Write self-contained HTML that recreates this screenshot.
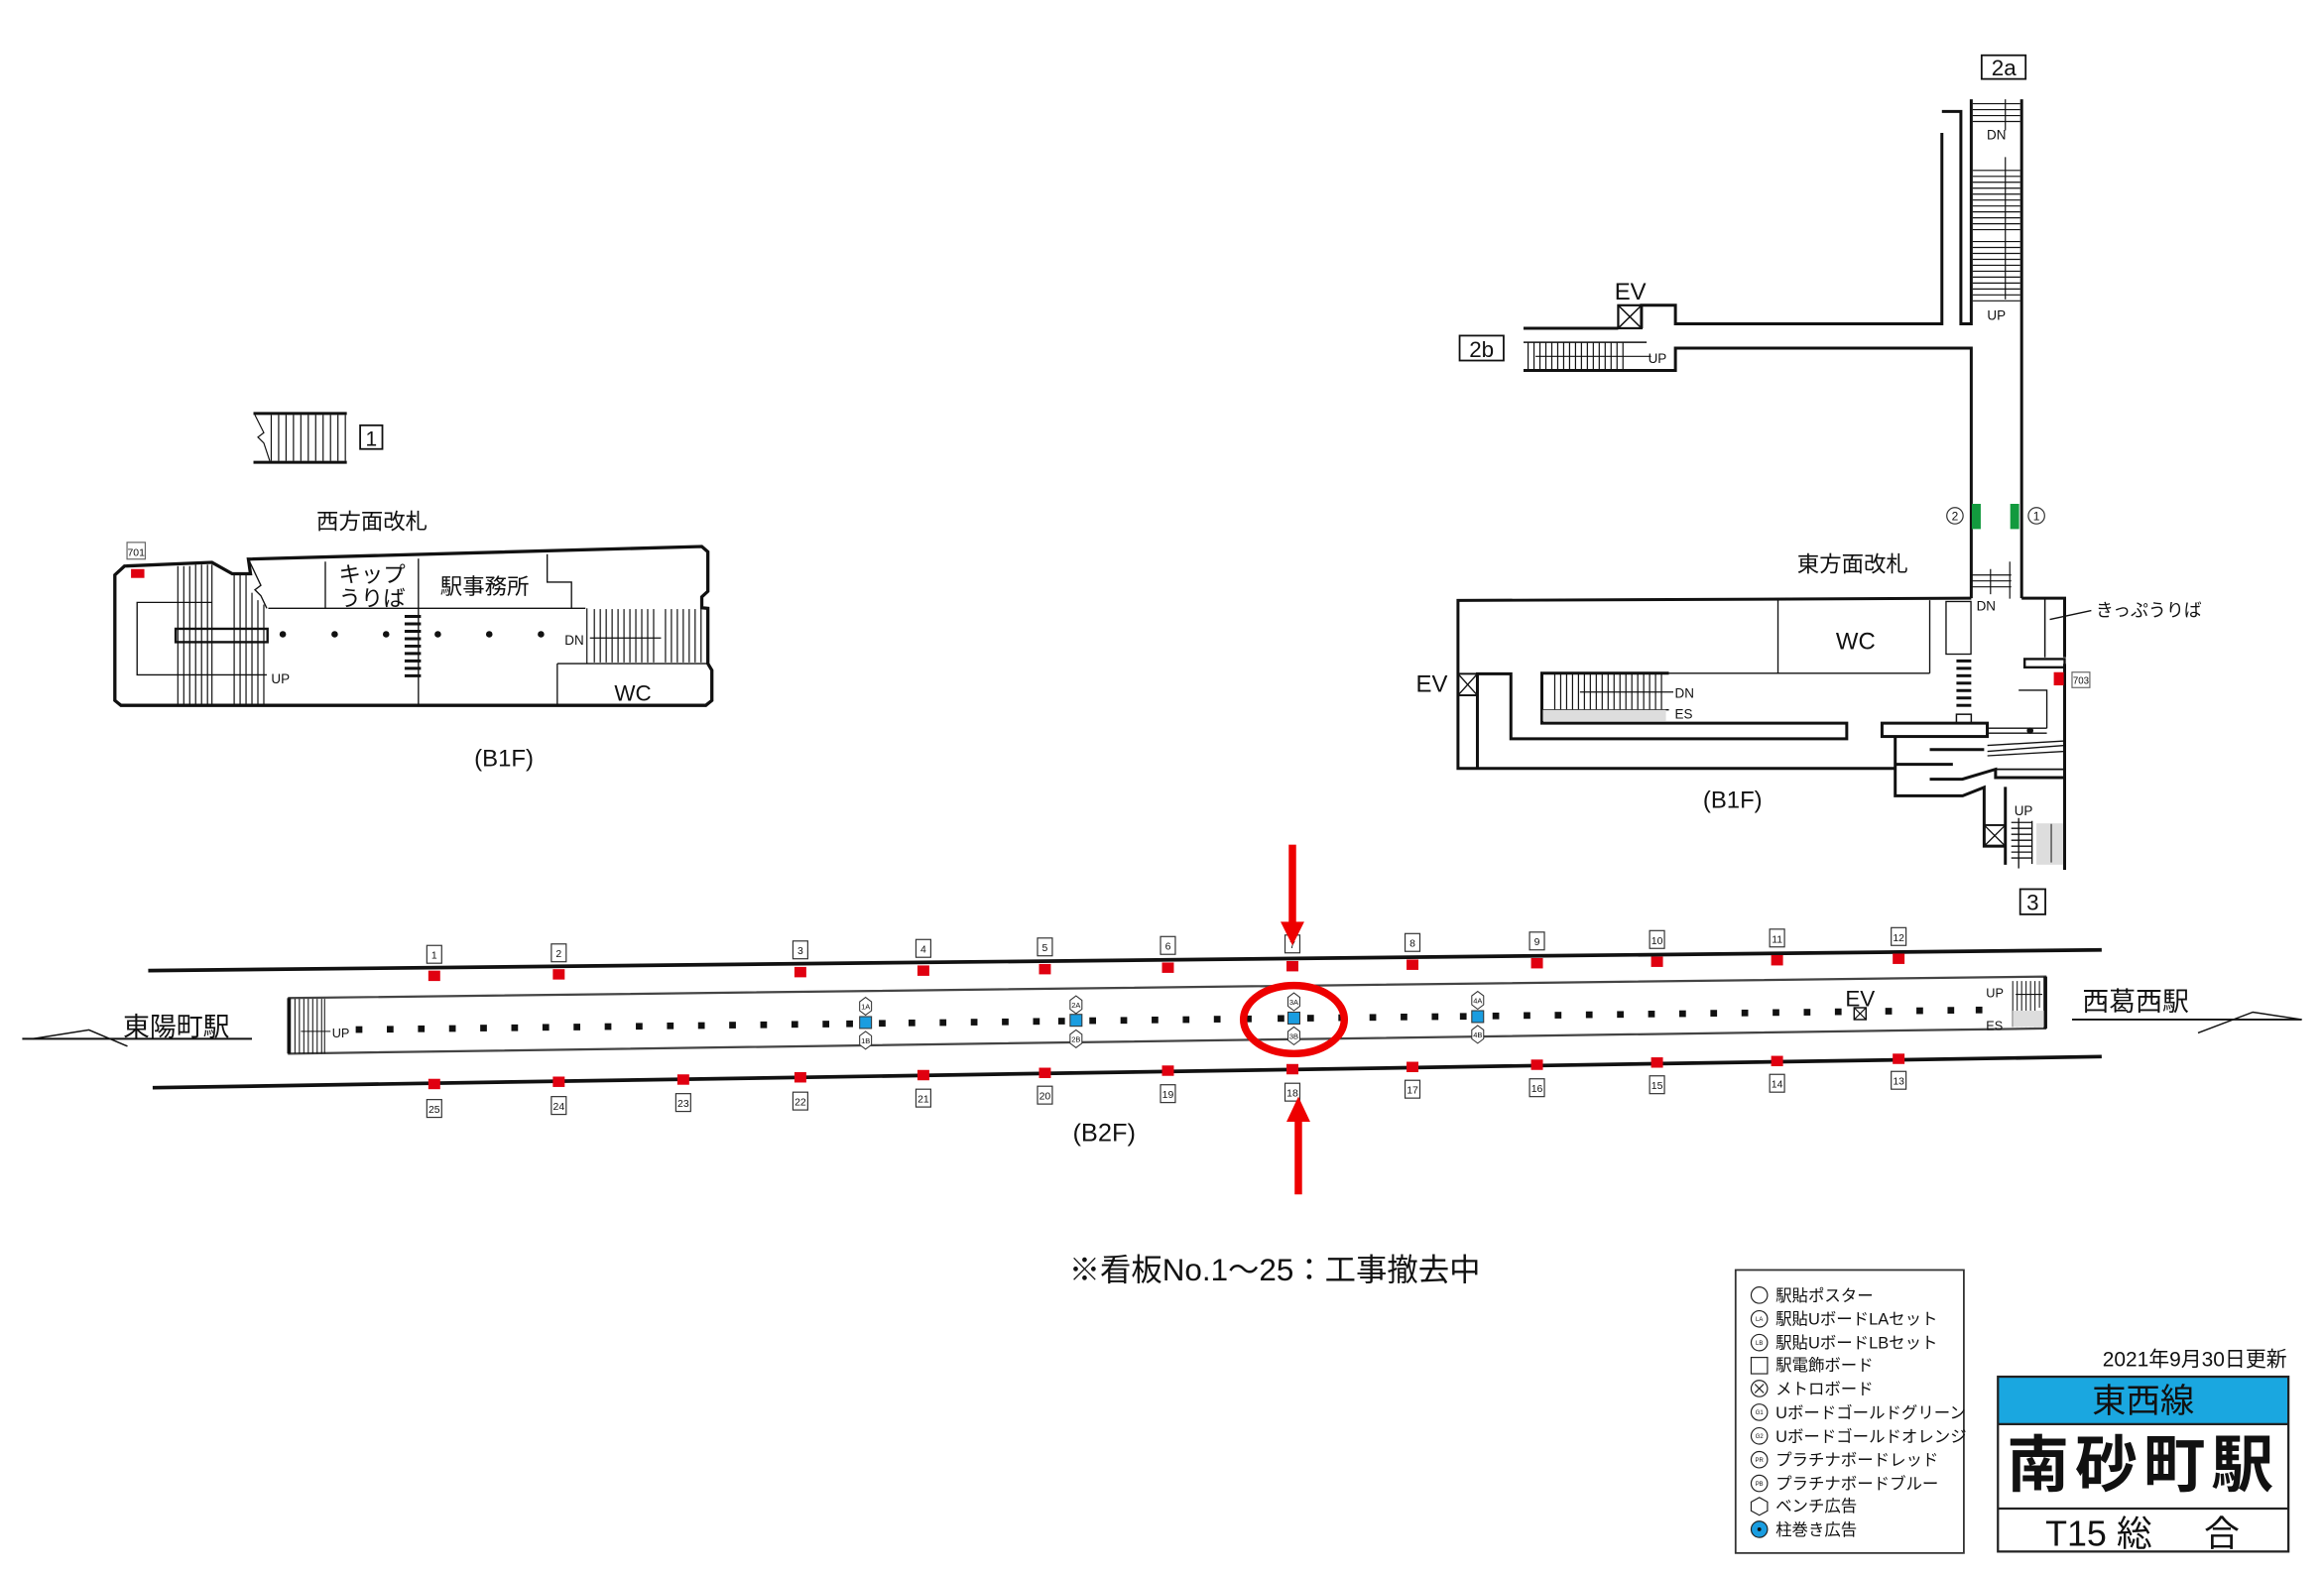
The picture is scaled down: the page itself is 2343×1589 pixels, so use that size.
<!DOCTYPE html>
<html><head><meta charset="utf-8"><style>
html,body{margin:0;padding:0;background:#fff;overflow:hidden;}
svg{display:block;}
text{font-family:"Liberation Sans","Noto Sans CJK JP",sans-serif;fill:#111;}
</style></head><body>
<svg width="2343" height="1589" viewBox="0 0 1568 1063.5" preserveAspectRatio="none" xmlns="http://www.w3.org/2000/svg">
<rect width="1600" height="1100" fill="#fff"/>

<!-- ===== WEST B1F ===== -->
<g stroke="#111" fill="none">
 <line x1="171" y1="279" x2="234" y2="279" stroke-width="2"/>
 <line x1="171" y1="312" x2="234" y2="312" stroke-width="2"/>
 <g stroke-width="0.8">
  <path d="M172,280 L178,292 L174,295 L178,299 L182,311"/>
  <line x1="183" y1="280" x2="183" y2="311"/><line x1="188" y1="280" x2="188" y2="311"/><line x1="193" y1="280" x2="193" y2="311"/><line x1="198" y1="280" x2="198" y2="311"/><line x1="203" y1="280" x2="203" y2="311"/><line x1="208" y1="280" x2="208" y2="311"/><line x1="213" y1="280" x2="213" y2="311"/><line x1="218" y1="280" x2="218" y2="311"/><line x1="223" y1="280" x2="223" y2="311"/><line x1="228" y1="280" x2="228" y2="311"/><line x1="233" y1="280" x2="233" y2="311"/>
 </g>
 <rect x="243" y="287" width="15" height="16" stroke-width="1.2"/>
 <path d="M77.5,388 L84,382 L143,379.5 L156.7,387.2 L169,387.2 L167.6,377.3 L473.5,368.8 L477.6,372.4 L477.6,399 L473.5,402.8 L473.5,410.1 L477.6,410.5 L477.6,447.8 L480.3,452.3 L480.3,472.7 L476.2,476 L81.6,476 L77.5,472.7 Z" stroke-width="2.2"/>
 <g stroke-width="0.9">
  <line x1="181" y1="410.5" x2="395" y2="410.5"/>
  <line x1="219.5" y1="379" x2="219.5" y2="410.5"/>
  <line x1="282.3" y1="377" x2="282.3" y2="476"/>
  <polyline points="369.2,374 369.2,392.8 385.6,392.8 385.6,410.5"/>
  <line x1="376" y1="447.8" x2="477" y2="447.8"/>
  <line x1="376" y1="447.8" x2="376" y2="476"/>
  <path d="M167.6,377.3 L176,395 L172,398 L176,402 L180,410.5"/>
  <polyline points="143,406.5 92.5,406.5 92.5,455.4 180,455.4"/>
  <rect x="118.5" y="424.3" width="62" height="9" stroke-width="1.6"/>
 </g>
 <g stroke-width="0.8">
  <line x1="120" y1="382" x2="120" y2="476"/><line x1="124" y1="382" x2="124" y2="476"/><line x1="128" y1="382" x2="128" y2="476"/><line x1="132" y1="381" x2="132" y2="476"/><line x1="136" y1="381" x2="136" y2="476"/><line x1="140" y1="381" x2="140" y2="476"/><line x1="143" y1="381" x2="143" y2="476"/>
  <line x1="158" y1="388" x2="158" y2="476"/><line x1="162" y1="388" x2="162" y2="476"/><line x1="166" y1="388" x2="166" y2="476"/><line x1="170" y1="400" x2="170" y2="476"/><line x1="174" y1="405" x2="174" y2="476"/><line x1="178" y1="408" x2="178" y2="476"/>
  <line x1="396" y1="410.5" x2="396" y2="447.8"/>
  <line x1="401" y1="411" x2="401" y2="447"/><line x1="405" y1="411" x2="405" y2="447"/><line x1="409" y1="411" x2="409" y2="447"/><line x1="413" y1="411" x2="413" y2="447"/><line x1="417" y1="411" x2="417" y2="447"/><line x1="421" y1="411" x2="421" y2="447"/><line x1="425" y1="411" x2="425" y2="447"/><line x1="429" y1="411" x2="429" y2="447"/><line x1="433" y1="411" x2="433" y2="447"/><line x1="437" y1="411" x2="437" y2="447"/><line x1="441" y1="411" x2="441" y2="447"/><line x1="449" y1="411" x2="449" y2="447"/><line x1="453" y1="411" x2="453" y2="447"/><line x1="457" y1="411" x2="457" y2="447"/><line x1="461" y1="411" x2="461" y2="447"/><line x1="465" y1="411" x2="465" y2="447"/><line x1="469" y1="411" x2="469" y2="447"/><line x1="473" y1="411" x2="473" y2="447"/>
  <line x1="398" y1="430.5" x2="446" y2="430.5"/>
 </g>
 <g stroke-width="2">
  <line x1="273" y1="416" x2="284" y2="416"/><line x1="273" y1="421" x2="284" y2="421"/><line x1="273" y1="426" x2="284" y2="426"/><line x1="273" y1="431" x2="284" y2="431"/><line x1="273" y1="436" x2="284" y2="436"/><line x1="273" y1="441" x2="284" y2="441"/><line x1="273" y1="446" x2="284" y2="446"/><line x1="273" y1="451" x2="284" y2="451"/><line x1="273" y1="456" x2="284" y2="456"/>
 </g>
 <rect x="85.7" y="366" width="12.3" height="11.3" stroke-width="0.8" stroke="#666"/>
</g>
<rect x="88.4" y="384" width="9" height="6" fill="#e00010"/>
<g fill="#111"><circle cx="190.8" cy="428" r="2.2"/><circle cx="225.8" cy="428" r="2.2"/><circle cx="260.5" cy="428" r="2.2"/><circle cx="295.4" cy="428" r="2.2"/><circle cx="330.1" cy="428" r="2.2"/><circle cx="365" cy="428" r="2.2"/></g>
<text x="91.8" y="375" font-size="7" text-anchor="middle">701</text>
<text x="250.5" y="301" font-size="14" text-anchor="middle">1</text>
<text x="251" y="357" font-size="15" text-anchor="middle">西方面改札</text>
<text x="251" y="393" font-size="15" text-anchor="middle">キップ</text>
<text x="251" y="409" font-size="15" text-anchor="middle">うりば</text>
<text x="327" y="401" font-size="15" text-anchor="middle">駅事務所</text>
<text x="183" y="461" font-size="9">UP</text>
<text x="381" y="435" font-size="9">DN</text>
<text x="427" y="473" font-size="15" text-anchor="middle">WC</text>
<text x="340" y="517" font-size="16" text-anchor="middle">(B1F)</text>

<!-- ===== EAST B1F ===== -->
<g transform="translate(6,2)">
<g stroke="#111" fill="none" stroke-width="2">
 <polyline points="1021.9,219.5 1085.8,219.5"/>
 <polyline points="1101.5,219.5 1101.5,204 1124.4,204 1124.4,216.5 1304.2,216.5 1304.2,87.7"/>
 <polyline points="1304.2,73.2 1317,73.2 1317,216.5 1324,216.5 1324,65"/>
 <polyline points="1021.9,248 1124.4,248 1124.4,232.9 1324,232.9 1324,401.7"/>
 <line x1="1358" y1="65" x2="1358" y2="401.7"/>
 <rect x="1085.8" y="204" width="15.7" height="15.5" stroke-width="1.5"/>
 <line x1="1085.8" y1="204" x2="1101.5" y2="219.5" stroke-width="1"/><line x1="1101.5" y1="204" x2="1085.8" y2="219.5" stroke-width="1"/>
 <line x1="1021.9" y1="229" x2="1105" y2="229" stroke-width="1"/>
 <rect x="978.8" y="224.5" width="29.7" height="16.8" stroke-width="1.2"/>
 <rect x="1331" y="35.3" width="29.7" height="16" stroke-width="1.2"/>
 <polyline points="1324,401.7 977.7,403.2 977.7,516.5 1272.6,516.5"/>
 <polyline points="990.8,516.5 990.8,452.7 1013.4,452.7 1013.4,496.5 1240,496.5 1240,486 1034.3,486 1034.3,452.3 1120,452.3"/>
 <rect x="977.7" y="452.7" width="13" height="14.5" stroke-width="1.3"/>
 <line x1="977.7" y1="452.7" x2="990.8" y2="467.2" stroke-width="0.9"/><line x1="990.8" y1="452.7" x2="977.7" y2="467.2" stroke-width="0.9"/>
 <g stroke-width="0.9">
  <line x1="1120" y1="452.3" x2="1296" y2="452.3"/>
  <line x1="1193.6" y1="403" x2="1193.6" y2="452.3"/>
  <line x1="1296" y1="403" x2="1296" y2="452.3"/>
  <rect x="1307" y="403.9" width="16.8" height="35.5"/>
  <line x1="1034.3" y1="477" x2="1120" y2="477"/>
 </g>
 <rect x="1035" y="477" width="83" height="7.5" fill="#ddd" stroke="none"/>
 <g stroke-width="0.8">
  <line x1="1043" y1="452.3" x2="1043" y2="477"/><line x1="1047" y1="452.3" x2="1047" y2="477"/><line x1="1051" y1="452.3" x2="1051" y2="477"/><line x1="1055" y1="452.3" x2="1055" y2="477"/><line x1="1059" y1="452.3" x2="1059" y2="477"/><line x1="1063" y1="452.3" x2="1063" y2="477"/><line x1="1067" y1="452.3" x2="1067" y2="477"/><line x1="1071" y1="452.3" x2="1071" y2="477"/><line x1="1075" y1="452.3" x2="1075" y2="477"/><line x1="1079" y1="452.3" x2="1079" y2="477"/><line x1="1083" y1="452.3" x2="1083" y2="477"/><line x1="1087" y1="452.3" x2="1087" y2="477"/><line x1="1091" y1="452.3" x2="1091" y2="477"/><line x1="1095" y1="452.3" x2="1095" y2="477"/><line x1="1099" y1="452.3" x2="1099" y2="477"/><line x1="1103" y1="452.3" x2="1103" y2="477"/><line x1="1107" y1="452.3" x2="1107" y2="477"/><line x1="1111" y1="452.3" x2="1111" y2="477"/><line x1="1115" y1="452.3" x2="1115" y2="477"/>
  <line x1="1060" y1="465" x2="1123" y2="465"/>
  <line x1="1025" y1="229" x2="1025" y2="248"/><line x1="1029" y1="229" x2="1029" y2="248"/><line x1="1033" y1="229" x2="1033" y2="248"/><line x1="1037" y1="229" x2="1037" y2="248"/><line x1="1041" y1="229" x2="1041" y2="248"/><line x1="1045" y1="229" x2="1045" y2="248"/><line x1="1049" y1="229" x2="1049" y2="248"/><line x1="1053" y1="229" x2="1053" y2="248"/><line x1="1057" y1="229" x2="1057" y2="248"/><line x1="1061" y1="229" x2="1061" y2="248"/><line x1="1065" y1="229" x2="1065" y2="248"/><line x1="1069" y1="229" x2="1069" y2="248"/><line x1="1073" y1="229" x2="1073" y2="248"/><line x1="1077" y1="229" x2="1077" y2="248"/><line x1="1081" y1="229" x2="1081" y2="248"/><line x1="1085" y1="229" x2="1085" y2="248"/><line x1="1089" y1="229" x2="1089" y2="248"/>
  <line x1="1030" y1="238.5" x2="1108" y2="238.5"/>
  <line x1="1325" y1="68" x2="1357" y2="68"/><line x1="1325" y1="72" x2="1357" y2="72"/><line x1="1325" y1="76" x2="1357" y2="76"/><line x1="1325" y1="80" x2="1357" y2="80"/>
  <line x1="1325" y1="113" x2="1357" y2="113"/><line x1="1325" y1="117" x2="1357" y2="117"/><line x1="1325" y1="121" x2="1357" y2="121"/><line x1="1325" y1="125" x2="1357" y2="125"/><line x1="1325" y1="129" x2="1357" y2="129"/><line x1="1325" y1="133" x2="1357" y2="133"/><line x1="1325" y1="137" x2="1357" y2="137"/><line x1="1325" y1="141" x2="1357" y2="141"/><line x1="1325" y1="145" x2="1357" y2="145"/><line x1="1325" y1="149" x2="1357" y2="149"/><line x1="1325" y1="153" x2="1357" y2="153"/>
  <line x1="1325" y1="161" x2="1357" y2="161"/><line x1="1325" y1="165" x2="1357" y2="165"/><line x1="1325" y1="169" x2="1357" y2="169"/><line x1="1325" y1="173" x2="1357" y2="173"/><line x1="1325" y1="177" x2="1357" y2="177"/><line x1="1325" y1="181" x2="1357" y2="181"/><line x1="1325" y1="185" x2="1357" y2="185"/><line x1="1325" y1="189" x2="1357" y2="189"/><line x1="1325" y1="193" x2="1357" y2="193"/><line x1="1325" y1="197" x2="1357" y2="197"/><line x1="1325" y1="201" x2="1357" y2="201"/>
  <line x1="1347" y1="65" x2="1347" y2="86"/><line x1="1347" y1="104" x2="1347" y2="200"/>
  <line x1="1324" y1="386" x2="1351" y2="386"/><line x1="1324" y1="390" x2="1351" y2="390"/><line x1="1324" y1="394" x2="1351" y2="394"/><line x1="1350" y1="377" x2="1350" y2="402"/><line x1="1337" y1="382" x2="1337" y2="399"/>
 </g>
 <polyline points="1358,401.7 1387,401.7 1387,441.6"/>
 <line x1="1373.7" y1="401.7" x2="1373.7" y2="441.6" stroke-width="1"/>
 <rect x="1360" y="442.7" width="27" height="5.6" stroke-width="1.6"/>
 <line x1="1377" y1="416" x2="1405" y2="410" stroke-width="0.9"/>
 <line x1="1387" y1="446" x2="1387" y2="585"/>
 <g stroke-width="2">
  <line x1="1314" y1="444" x2="1324" y2="444"/><line x1="1314" y1="449" x2="1324" y2="449"/><line x1="1314" y1="454" x2="1324" y2="454"/><line x1="1314" y1="459" x2="1324" y2="459"/><line x1="1314" y1="464" x2="1324" y2="464"/><line x1="1314" y1="469" x2="1324" y2="469"/><line x1="1314" y1="474" x2="1324" y2="474"/>
 </g>
 <rect x="1314" y="480" width="10" height="6" stroke-width="1"/>
 <rect x="1263.8" y="486" width="71" height="9"/>
 <polyline points="1272.7,495 1272.7,535 1318.2,535 1332.7,529.3 1332.7,569 1347,569"/>
 <rect x="1332.7" y="554.8" width="14.3" height="14.2" stroke-width="1.3"/>
 <line x1="1332.7" y1="554.8" x2="1347" y2="569" stroke-width="0.9"/><line x1="1347" y1="554.8" x2="1332.7" y2="569" stroke-width="0.9"/>
 <line x1="1347" y1="529" x2="1347" y2="581.5"/>
 <line x1="1296" y1="503.8" x2="1332.7" y2="503.8"/>
 <line x1="1272.7" y1="513.8" x2="1311.6" y2="513.8"/>
 <polyline points="1296,523.8 1318,523.8 1340.4,517.1 1340.4,522.7 1387,522.7"/>
 <line x1="1340.4" y1="517.1" x2="1387" y2="517.1" stroke-width="1.2"/>
 <g stroke-width="0.9">
  <line x1="1334.9" y1="489.4" x2="1375" y2="489.4"/><line x1="1334.9" y1="492.7" x2="1375" y2="492.7"/>
  <polyline points="1375,489.4 1375,463.8 1356,463.8"/>
  <line x1="1334.9" y1="501" x2="1387" y2="498"/><line x1="1334.9" y1="505" x2="1387" y2="501"/><line x1="1334.9" y1="508" x2="1387" y2="505"/>
  <line x1="1351" y1="553" x2="1365" y2="553"/><line x1="1351" y1="557" x2="1365" y2="557"/><line x1="1351" y1="561" x2="1365" y2="561"/><line x1="1351" y1="565" x2="1365" y2="565"/><line x1="1351" y1="569" x2="1365" y2="569"/><line x1="1351" y1="573" x2="1365" y2="573"/><line x1="1351" y1="577" x2="1365" y2="577"/>
  <line x1="1356" y1="550" x2="1356" y2="584"/><line x1="1365" y1="552" x2="1365" y2="581"/>
 </g>
 <rect x="1392" y="451.6" width="12" height="10.4" stroke-width="0.8" stroke="#666"/>
</g>
<circle cx="1363.7" cy="491" r="2.2" fill="#111"/>
<rect x="1368" y="553.6" width="18" height="27.9" fill="#ddd"/>
<line x1="1378" y1="554" x2="1378" y2="580" stroke="#555" stroke-width="1"/>
<rect x="1379.7" y="451.6" width="6.7" height="8.9" fill="#e00010"/>
<rect x="1324.4" y="338" width="6" height="17" fill="#129a3e"/>
<rect x="1350.3" y="338" width="6" height="17" fill="#129a3e"/>
<circle cx="1313" cy="346" r="5.5" fill="none" stroke="#333" stroke-width="0.8"/>
<circle cx="1368" cy="346" r="5.5" fill="none" stroke="#333" stroke-width="0.8"/>
<text x="1313" y="349" font-size="8" text-anchor="middle">2</text>
<text x="1368" y="349" font-size="8" text-anchor="middle">1</text>
<text x="1398" y="459.5" font-size="6.5" text-anchor="middle">703</text>
<text x="1346" y="49" font-size="15" text-anchor="middle">2a</text>
<text x="993.6" y="239" font-size="15" text-anchor="middle">2b</text>
<text x="1106" y="243" font-size="9">UP</text>
<text x="1341" y="92" font-size="9" text-anchor="middle">DN</text>
<text x="1341" y="214" font-size="9" text-anchor="middle">UP</text>
<text x="1334" y="410" font-size="9" text-anchor="middle">DN</text>
<text x="1353" y="548" font-size="9">UP</text>
</g>
<text x="1100" y="202" font-size="16" text-anchor="middle">EV</text>
<text x="1250" y="386" font-size="15" text-anchor="middle">東方面改札</text>
<text x="1414" y="416" font-size="12">きっぷうりば</text>
<text x="1252" y="438" font-size="16" text-anchor="middle">WC</text>
<text x="966" y="467" font-size="16" text-anchor="middle">EV</text>
<text x="1130" y="471" font-size="9">DN</text>
<text x="1130" y="485" font-size="9">ES</text>
<text x="1169" y="545" font-size="16" text-anchor="middle">(B1F)</text>
<rect x="1363" y="600" width="17" height="17" fill="none" stroke="#111" stroke-width="1.2"/>
<text x="1371.5" y="614" font-size="15" text-anchor="middle">3</text>

<!-- ===== B2F PLATFORM ===== -->
<g stroke="#111" fill="none">
 <line x1="100" y1="655" x2="1418" y2="641" stroke-width="2.5"/>
 <line x1="103" y1="734" x2="1418" y2="713" stroke-width="2.5"/>
 <polygon points="195,673.5 1380,659 1380,694 195,711" stroke-width="1.5" stroke="#444"/>
 <line x1="195" y1="673.5" x2="195" y2="711" stroke-width="2.5"/>
 <line x1="1380" y1="659" x2="1380" y2="694" stroke-width="2.5"/>
 <g stroke-width="0.7">
  <line x1="199" y1="674" x2="199" y2="711"/><line x1="202" y1="674" x2="202" y2="711"/><line x1="205" y1="674" x2="205" y2="711"/><line x1="208" y1="674" x2="208" y2="711"/><line x1="211" y1="674" x2="211" y2="711"/><line x1="214" y1="674" x2="214" y2="711"/><line x1="217" y1="674" x2="217" y2="711"/><line x1="219" y1="674" x2="219" y2="711"/>
  <line x1="203" y1="696" x2="223" y2="696"/>
  <line x1="1358" y1="662" x2="1358" y2="693"/><line x1="1361" y1="662" x2="1361" y2="693"/><line x1="1364" y1="662" x2="1364" y2="693"/><line x1="1367" y1="662" x2="1367" y2="693"/><line x1="1370" y1="662" x2="1370" y2="693"/><line x1="1373" y1="662" x2="1373" y2="693"/><line x1="1376" y1="662" x2="1376" y2="680"/>
  <line x1="1360" y1="671" x2="1378" y2="671"/>
 </g>
 <line x1="15" y1="701" x2="170" y2="701" stroke-width="1.3"/>
 <polyline points="22,701 60,695 86,706" stroke-width="1"/>
 <line x1="1398" y1="688" x2="1553" y2="688" stroke-width="1.3"/>
 <polyline points="1483,697 1520,683 1553,688" stroke-width="1"/>
</g>
<rect x="1358" y="682" width="21" height="11" fill="#ddd"/>
<text x="83" y="699" font-size="18">東陽町駅</text>
<text x="1405" y="682" font-size="18">西葛西駅</text>
<text x="224" y="700" font-size="8.5">UP</text>
<text x="1340" y="673" font-size="8.5">UP</text>
<text x="1340" y="695" font-size="8.5">ES</text>
<text x="1255" y="679" font-size="15" text-anchor="middle">EV</text>
<rect x="1251" y="680" width="8" height="8" fill="none" stroke="#111" stroke-width="1"/>
<line x1="1251" y1="680" x2="1259" y2="688" stroke="#111" stroke-width="0.8"/><line x1="1259" y1="680" x2="1251" y2="688" stroke="#111" stroke-width="0.8"/>

<g fill="#111">
<rect x="240" y="692.5" width="4.5" height="4.5"/><rect x="261" y="692.3" width="4.5" height="4.5"/><rect x="282" y="692" width="4.5" height="4.5"/><rect x="303" y="691.8" width="4.5" height="4.5"/><rect x="324" y="691.5" width="4.5" height="4.5"/><rect x="345" y="691.3" width="4.5" height="4.5"/><rect x="366" y="691" width="4.5" height="4.5"/><rect x="387" y="690.8" width="4.5" height="4.5"/><rect x="408" y="690.5" width="4.5" height="4.5"/><rect x="429" y="690.3" width="4.5" height="4.5"/><rect x="450" y="690" width="4.5" height="4.5"/><rect x="471" y="689.8" width="4.5" height="4.5"/><rect x="492" y="689.5" width="4.5" height="4.5"/><rect x="513" y="689.3" width="4.5" height="4.5"/><rect x="534" y="689" width="4.5" height="4.5"/><rect x="555" y="688.8" width="4.5" height="4.5"/><rect x="571" y="688.6" width="4.5" height="4.5"/><rect x="593" y="688.3" width="4.5" height="4.5"/><rect x="613" y="688" width="4.5" height="4.5"/><rect x="634" y="687.8" width="4.5" height="4.5"/><rect x="655" y="687.5" width="4.5" height="4.5"/><rect x="676" y="687.3" width="4.5" height="4.5"/><rect x="697" y="687" width="4.5" height="4.5"/><rect x="714" y="686.8" width="4.5" height="4.5"/><rect x="735" y="686.5" width="4.5" height="4.5"/><rect x="756" y="686.3" width="4.5" height="4.5"/><rect x="777" y="686" width="4.5" height="4.5"/><rect x="798" y="685.8" width="4.5" height="4.5"/><rect x="819" y="685.5" width="4.5" height="4.5"/><rect x="840" y="685.3" width="4.5" height="4.5"/><rect x="862" y="685" width="4.5" height="4.5"/><rect x="882" y="684.8" width="4.5" height="4.5"/><rect x="903" y="684.5" width="4.5" height="4.5"/><rect x="924" y="684.3" width="4.5" height="4.5"/><rect x="945" y="684" width="4.5" height="4.5"/><rect x="966" y="683.8" width="4.5" height="4.5"/><rect x="985" y="683.6" width="4.5" height="4.5"/><rect x="1007" y="683.3" width="4.5" height="4.5"/><rect x="1028" y="683" width="4.5" height="4.5"/><rect x="1049" y="682.8" width="4.5" height="4.5"/><rect x="1070" y="682.5" width="4.5" height="4.5"/><rect x="1091" y="682.3" width="4.5" height="4.5"/><rect x="1112" y="682" width="4.5" height="4.5"/><rect x="1133" y="681.8" width="4.5" height="4.5"/><rect x="1154" y="681.5" width="4.5" height="4.5"/><rect x="1175" y="681.3" width="4.5" height="4.5"/><rect x="1196" y="681" width="4.5" height="4.5"/><rect x="1217" y="680.8" width="4.5" height="4.5"/><rect x="1238" y="680.5" width="4.5" height="4.5"/><rect x="1272" y="680.1" width="4.5" height="4.5"/><rect x="1293" y="679.8" width="4.5" height="4.5"/><rect x="1314" y="679.5" width="4.5" height="4.5"/><rect x="1333" y="679.3" width="4.5" height="4.5"/>
</g>
<g stroke="#333" stroke-width="0.7">
 <rect x="580" y="686" width="8" height="8" fill="#1a9de0"/>
 <rect x="722" y="684.5" width="8" height="8" fill="#1a9de0"/>
 <rect x="869" y="683" width="8" height="8" fill="#1a9de0"/>
 <rect x="993" y="682" width="8" height="8" fill="#1a9de0"/>
 <g fill="#fff">
  <polygon points="584,673 588,676 588,682 584,685 580,682 580,676"/><polygon points="584,696 588,699 588,705 584,708 580,705 580,699"/>
  <polygon points="726,672 730,675 730,681 726,684 722,681 722,675"/><polygon points="726,695 730,698 730,704 726,707 722,704 722,698"/>
  <polygon points="873,670 877,673 877,679 873,682 869,679 869,673"/><polygon points="873,693 877,696 877,702 873,705 869,702 869,696"/>
  <polygon points="997,669 1001,672 1001,678 997,681 993,678 993,672"/><polygon points="997,692 1001,695 1001,701 997,704 993,701 993,695"/>
 </g>
</g>
<g font-size="5" text-anchor="middle">
 <text x="584" y="681">1A</text><text x="584" y="704">1B</text>
 <text x="726" y="680">2A</text><text x="726" y="703">2B</text>
 <text x="873" y="678">3A</text><text x="873" y="701">3B</text>
 <text x="997" y="677">4A</text><text x="997" y="700">4B</text>
</g>
<g fill="#e00010">
 <rect x="289" y="655" width="8" height="7"/><rect x="373" y="654" width="8" height="7"/><rect x="536" y="652.5" width="8" height="7"/><rect x="619" y="651.5" width="8" height="7"/><rect x="701" y="650.5" width="8" height="7"/><rect x="784" y="649.5" width="8" height="7"/><rect x="868" y="648.5" width="8" height="7"/><rect x="949" y="647.5" width="8" height="7"/><rect x="1033" y="646.5" width="8" height="7"/><rect x="1114" y="645.5" width="8" height="7"/><rect x="1195" y="644.5" width="8" height="7"/><rect x="1277" y="643.5" width="8" height="7"/>
 <rect x="289" y="728" width="8" height="7"/><rect x="373" y="726.5" width="8" height="7"/><rect x="457" y="725" width="8" height="7"/><rect x="536" y="723.5" width="8" height="7"/><rect x="619" y="722" width="8" height="7"/><rect x="701" y="720.5" width="8" height="7"/><rect x="784" y="719" width="8" height="7"/><rect x="868" y="718" width="8" height="7"/><rect x="949" y="716.5" width="8" height="7"/><rect x="1033" y="715" width="8" height="7"/><rect x="1114" y="713.5" width="8" height="7"/><rect x="1195" y="712.5" width="8" height="7"/><rect x="1277" y="711" width="8" height="7"/>
</g>
<g fill="#fff" stroke="#333" stroke-width="0.8">
 <rect x="288" y="638" width="10" height="12"/><rect x="372" y="637" width="10" height="12"/><rect x="535" y="635" width="10" height="12"/><rect x="618" y="634" width="10" height="12"/><rect x="700" y="633" width="10" height="12"/><rect x="783" y="632" width="10" height="12"/><rect x="867" y="631" width="10" height="12"/><rect x="948" y="630" width="10" height="12"/><rect x="1032" y="629" width="10" height="12"/><rect x="1113" y="628" width="10" height="12"/><rect x="1194" y="627" width="10" height="12"/><rect x="1276" y="626" width="10" height="12"/>
 <rect x="288" y="742" width="10" height="12"/><rect x="372" y="740" width="10" height="12"/><rect x="456" y="738" width="10" height="12"/><rect x="535" y="737" width="10" height="12"/><rect x="618" y="735" width="10" height="12"/><rect x="700" y="733" width="10" height="12"/><rect x="783" y="732" width="10" height="12"/><rect x="867" y="731" width="10" height="12"/><rect x="948" y="729" width="10" height="12"/><rect x="1032" y="728" width="10" height="12"/><rect x="1113" y="726" width="10" height="12"/><rect x="1194" y="725" width="10" height="12"/><rect x="1276" y="723" width="10" height="12"/>
</g>
<g font-size="7" text-anchor="middle">
 <text x="293" y="647">1</text><text x="377" y="646">2</text><text x="540" y="644">3</text><text x="623" y="643">4</text><text x="705" y="642">5</text><text x="788" y="641">6</text><text x="872" y="640">7</text><text x="953" y="639">8</text><text x="1037" y="638">9</text><text x="1118" y="637">10</text><text x="1199" y="636">11</text><text x="1281" y="635">12</text>
 <text x="293" y="751">25</text><text x="377" y="749">24</text><text x="461" y="747">23</text><text x="540" y="746">22</text><text x="623" y="744">21</text><text x="705" y="742">20</text><text x="788" y="741">19</text><text x="872" y="740">18</text><text x="953" y="738">17</text><text x="1037" y="737">16</text><text x="1118" y="735">15</text><text x="1199" y="734">14</text><text x="1281" y="732">13</text>
</g>
<text x="745" y="770" font-size="17" text-anchor="middle">(B2F)</text>

<ellipse cx="873" cy="688" rx="34" ry="23" fill="none" stroke="#ee0000" stroke-width="5"/>
<rect x="869.5" y="570" width="5" height="55" fill="#ee0000"/>
<polygon points="864,622 880,622 872,638" fill="#ee0000"/>
<rect x="873.5" y="754" width="5" height="52" fill="#ee0000"/>
<polygon points="868,757 884,757 876,740" fill="#ee0000"/>

<text x="860" y="864" font-size="21" text-anchor="middle">※看板No.1～25：工事撤去中</text>

<rect x="1171" y="857" width="154" height="191" fill="none" stroke="#333" stroke-width="1.2"/>
<g fill="none" stroke="#222" stroke-width="0.8">
 <circle cx="1187" cy="874" r="5.5"/><circle cx="1187" cy="890" r="5.5"/><circle cx="1187" cy="906" r="5.5"/>
 <rect x="1181.5" y="916" width="11" height="11"/>
 <circle cx="1187" cy="937" r="5.5"/><circle cx="1187" cy="953" r="5.5"/><circle cx="1187" cy="969" r="5.5"/><circle cx="1187" cy="985" r="5.5"/><circle cx="1187" cy="1001" r="5.5"/>
 <polygon points="1187,1010.5 1192.5,1013.5 1192.5,1019.5 1187,1022.5 1181.5,1019.5 1181.5,1013.5"/>
 <line x1="1184" y1="934" x2="1190" y2="940"/><line x1="1190" y1="934" x2="1184" y2="940"/>
</g>
<circle cx="1187" cy="1032" r="5.5" fill="#1a9de0" stroke="#222" stroke-width="0.8"/>
<circle cx="1187" cy="1032" r="1.3" fill="#111"/>
<g font-size="4" text-anchor="middle"><text x="1187" y="891.5">LA</text><text x="1187" y="907.5">LB</text><text x="1187" y="954.5">G1</text><text x="1187" y="970.5">G2</text><text x="1187" y="986.5">PR</text><text x="1187" y="1002.5">PB</text></g>
<g font-size="11">
 <text x="1198" y="878">駅貼ポスター</text>
 <text x="1198" y="894">駅貼UボードLAセット</text>
 <text x="1198" y="910">駅貼UボードLBセット</text>
 <text x="1198" y="925">駅電飾ボード</text>
 <text x="1198" y="941">メトロボード</text>
 <text x="1198" y="957">Uボードゴールドグリーン</text>
 <text x="1198" y="973">Uボードゴールドオレンジ</text>
 <text x="1198" y="989">プラチナボードレッド</text>
 <text x="1198" y="1005">プラチナボードブルー</text>
 <text x="1198" y="1020">ベンチ広告</text>
 <text x="1198" y="1036">柱巻き広告</text>
</g>

<text x="1543" y="922" font-size="14" text-anchor="end">2021年9月30日更新</text>
<rect x="1348" y="929" width="196" height="32" fill="#1aa7e0"/>
<rect x="1348" y="929" width="196" height="118" fill="none" stroke="#222" stroke-width="1.5"/>
<line x1="1348" y1="961" x2="1544" y2="961" stroke="#222" stroke-width="1.5"/>
<line x1="1348" y1="1018" x2="1544" y2="1018" stroke="#222" stroke-width="1.5"/>
<text x="1446" y="953" font-size="23" text-anchor="middle">東西線</text>
<text x="1446" y="1003" font-size="42" font-weight="bold" text-anchor="middle" letter-spacing="4">南砂町駅</text>
<text x="1380" y="1043" font-size="24">T15 総</text>
<text x="1487" y="1043" font-size="24">合</text>
</svg>
</body></html>
